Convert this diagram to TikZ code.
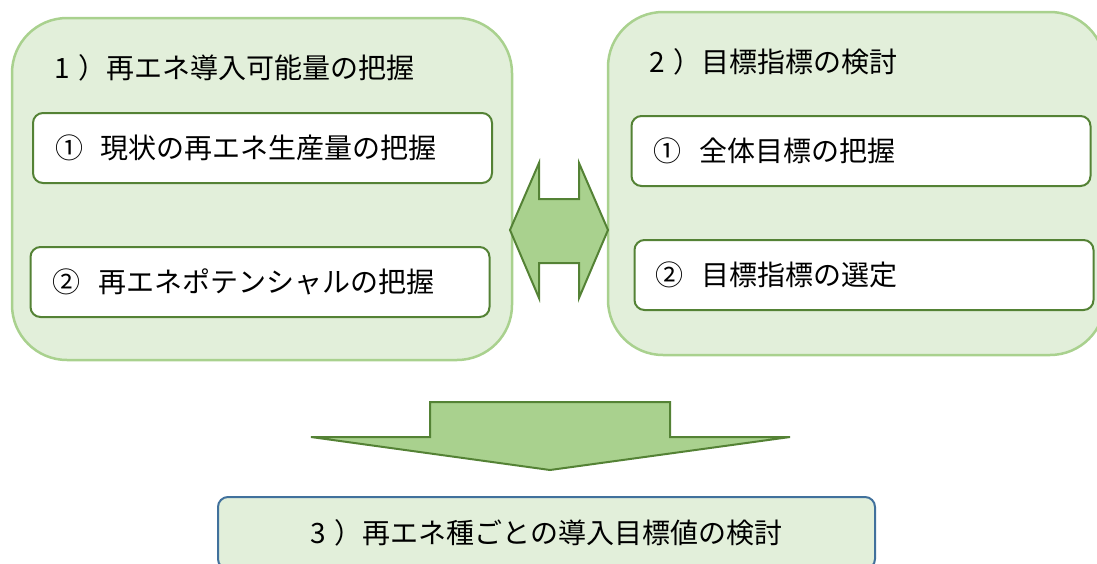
\documentclass[tikz,border=0pt]{standalone}
\usepackage{fontspec}
\setmainfont{Noto Sans CJK JP}
\usetikzlibrary{positioning}
\definecolor{panelfill}{HTML}{E2EFDA}
\definecolor{panelline}{HTML}{A9D18E}
\definecolor{leaf}{HTML}{548235}
\definecolor{arrowfill}{HTML}{A9D18E}
\definecolor{resultline}{HTML}{41719C}
\newcommand\digitgap{\hspace{.3em}}
\newcommand\markgap{\hspace{.62em}}
\tikzset{
  every node/.style={font=\fontsize{28}{34}\selectfont},
  panel/.style={draw=panelline,fill=panelfill,line width=2.5pt,rounded corners=55pt},
  itembox/.style={draw=leaf,fill=white,line width=2pt,rounded corners=10pt,
    minimum width=459pt,minimum height=70pt},
  resultbox/.style={draw=resultline,fill=panelfill,line width=2pt,rounded corners=10pt},
  bigarrow/.style={draw=leaf,fill=arrowfill,line width=2pt,line join=miter},
  caption/.style={inner sep=0pt,anchor=west}}

\begin{document}
\begin{tikzpicture}[x=1pt,y=-1pt]
\useasboundingbox (0,0) rectangle (1097,563);
\clip (0,0) rectangle (1097,563);

% two panels
\node[panel,minimum width=500pt,minimum height=342pt] (pot) at (262,189) {};
\node[panel,minimum width=497pt,minimum height=343pt] (goal) at (856.5,183.5) {};
\node[caption] (potT) at (54,68) {1\digitgap）再エネ導入可能量の把握};
\node[caption] (goalT) at (649,62) {2\digitgap）目標指標の検討};

% items
\node[itembox] (pot1) at (262.5,148) {};
\node[itembox] (pot2) at (260,282) {};
\node[itembox] (goal1) at (861,151) {};
\node[itembox] (goal2) at (864,275) {};
\node[caption] at ([xshift=23pt]pot1.west) {①\markgap 現状の再エネ生産量の把握};
\node[caption] at ([xshift=23pt]pot2.west) {②\markgap 再エネポテンシャルの把握};
\node[caption] at ([xshift=23pt]goal1.west) {①\markgap 全体目標の把握};
\node[caption] at ([xshift=22pt]goal2.west) {②\markgap 目標指標の選定};

% arrows
\draw[bigarrow] (510,230) -- (539,163) -- (539,199) -- (579,199) -- (579,163) -- (608,230)
  -- (579,298) -- (579,263) -- (539,263) -- (539,298) -- cycle;
\draw[bigarrow] (430,402) -- (670,402) -- (670,437) -- (790,437) -- (550,470)
  -- (311,437) -- (430,437) -- cycle;

% result
\node[resultbox,minimum width=657pt,minimum height=72pt] (plan) at (546.5,533)
  {3\digitgap）再エネ種ごとの導入目標値の検討};
\end{tikzpicture}
\end{document}
